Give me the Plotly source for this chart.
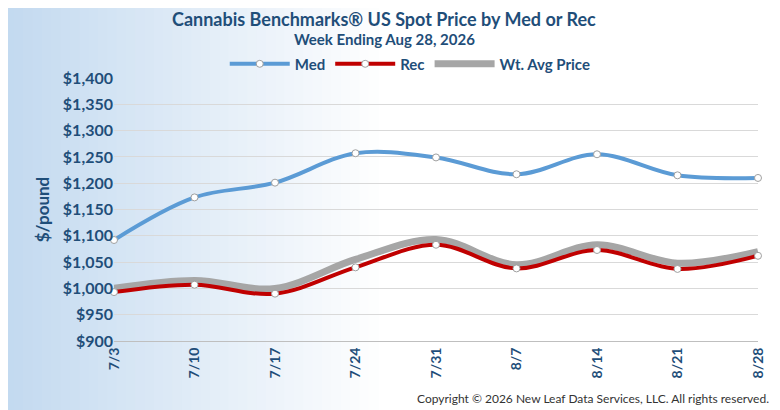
import plotly.graph_objects as go

weeks = ["7/3", "7/10", "7/17", "7/24", "7/31", "8/7", "8/14", "8/21", "8/28"]
med = [1092, 1173, 1201, 1257, 1249, 1217, 1255, 1215, 1210]
rec = [993, 1007, 990, 1040, 1083, 1038, 1073, 1037, 1062]
wt_avg = [1000, 1015, 1000, 1055, 1093, 1045, 1083, 1048, 1070]

fig = go.Figure()

fig.add_trace(go.Scatter(
    x=weeks, y=wt_avg, name="Wt. Avg Price", mode="lines",
    line={"color": "#a6a6a6", "width": 7, "shape": "spline"},
))
fig.add_trace(go.Scatter(
    x=weeks, y=rec, name="Rec", mode="lines+markers",
    line={"color": "#c00000", "width": 4, "shape": "spline"},
    marker={"color": "white", "size": 7, "line": {"color": "#a0a0a0", "width": 1}},
))
fig.add_trace(go.Scatter(
    x=weeks, y=med, name="Med", mode="lines+markers",
    line={"color": "#5b9bd5", "width": 4, "shape": "spline"},
    marker={"color": "white", "size": 7, "line": {"color": "#a0a0a0", "width": 1}},
))

# left-side blue gradient backdrop
shapes = []
steps = 40
for i in range(steps):
    t = i / steps
    r = int(195 + (255 - 195) * t)
    g = int(218 + (255 - 218) * t)
    b = int(240 + (255 - 240) * t)
    shapes.append({
        "type": "rect", "xref": "paper", "yref": "paper", "layer": "below",
        "x0": -0.17 + t * 0.58, "x1": -0.17 + (t + 1 / steps) * 0.58 + 0.002,
        "y0": -0.35, "y1": 1.35, "line": {"width": 0},
        "fillcolor": f"rgb({r},{g},{b})",
    })

bold = {"weight": "bold"}
fig.update_layout(
    width=780, height=410,
    paper_bgcolor="white", plot_bgcolor="rgba(0,0,0,0)",
    shapes=shapes,
    margin={"l": 106, "r": 30, "t": 70, "b": 77},
    font={"family": "Lato, Arial", "color": "#1f4e79"},
    legend={
        "orientation": "h", "x": 0.46, "y": 1.053, "xanchor": "center",
        "yanchor": "middle", "traceorder": "reversed",
        "font": {"size": 15, "color": "#1f4e79", **bold}, "bgcolor": "rgba(0,0,0,0)",
        "itemwidth": 60,
    },
    xaxis={
        "showgrid": False, "tickangle": -90, "range": [0, 8],
        "tickfont": {"size": 14, "color": "#1f4e79", **bold},
        "showline": True, "linecolor": "#bfbfbf",
    },
    yaxis={
        "range": [900, 1400], "dtick": 50, "tickprefix": "$", "tickformat": ",",
        "showgrid": True, "gridcolor": "#d9d9d9",
        "tickfont": {"size": 16, "color": "#1f4e79", **bold},
        "title": {"text": "<b>$/pound</b>", "font": {"size": 17}, "standoff": 8},
        "zeroline": False,
    },
    annotations=[
        {
            "text": "<b>Cannabis Benchmarks® US Spot Price by Med or Rec</b>",
            "xref": "paper", "yref": "paper", "x": 0.42, "y": 1.225,
            "xanchor": "center", "yanchor": "middle", "showarrow": False,
            "font": {"size": 18, "color": "#1f4e79"},
        },
        {
            "text": "<b>Week Ending Aug 28, 2026</b>",
            "xref": "paper", "yref": "paper", "x": 0.42, "y": 1.148,
            "xanchor": "center", "yanchor": "middle", "showarrow": False,
            "font": {"size": 15, "color": "#1f4e79"},
        },
        {
            "text": "Copyright © 2026 New Leaf Data Services, LLC. All rights reserved.",
            "xref": "paper", "yref": "paper", "x": 1.02, "y": -0.217,
            "xanchor": "right", "yanchor": "middle", "showarrow": False,
            "font": {"size": 12, "color": "#333333"},
        },
    ],
)

fig.update_traces(cliponaxis=False)

fig.write_html("out.html")
